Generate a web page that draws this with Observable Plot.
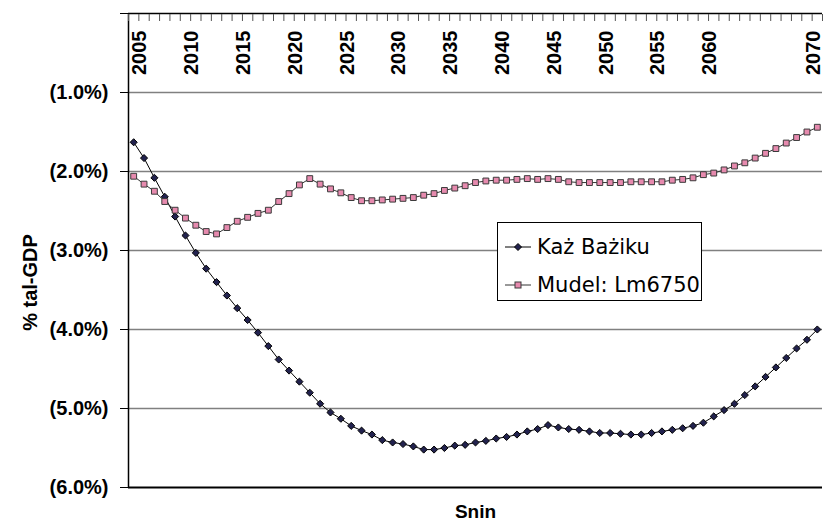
<!DOCTYPE html>
<html>
<head>
<meta charset="utf-8">
<script src="https://cdn.jsdelivr.net/npm/d3@7"></script>
<script src="https://cdn.jsdelivr.net/npm/@observablehq/plot@0.6"></script>
<style>
  body { margin: 0; background: #fff; }
  #wrap { position: relative; width: 823px; height: 526px; }
  #legend { position: absolute; left: 497px; top: 222px; width: 205px; height: 79px; border: 1px solid #000;
            background: #fff; box-sizing: border-box; font-family: "DejaVu Sans", sans-serif; font-size: 21px; color: #000; }
  #legend .row { position: absolute; left: 7px; display: flex; align-items: center; white-space: nowrap; }
  #legend svg { margin-right: 6px; }
</style>
</head>
<body>
<div id="wrap"></div>
<script>
// Categories (years)
const years = [2004,2005,2006,2007,2008,2009,2010,2011,2012,2013,2014,2015,2016,2017,2018,2019,2020,2021,2022,2023,
  2024,2025,2026,2027,2028,2029,2030,2031,2032,2033,2034,2035,2036,2037,2038,2039,2040,2041,2042,2043,
  2044,2045,2046,2047,2048,2049,2050,2051,2052,2053,2054,2055,2056,2057,2058,2059,2060,2061,2062,2063,
  2064,2065,2066,2067,2068,2069,2070];

// Series: % of GDP (negative balances)
const kazBaziku = [-1.63,-1.83,-2.08,-2.32,-2.57,-2.81,-3.03,-3.23,-3.40,-3.57,-3.73,-3.88,-4.04,-4.21,-4.38,-4.52,-4.66,-4.80,-4.94,-5.05,
  -5.13,-5.22,-5.28,-5.33,-5.40,-5.43,-5.45,-5.48,-5.52,-5.52,-5.50,-5.47,-5.46,-5.43,-5.41,-5.38,-5.36,-5.33,-5.29,-5.26,
  -5.21,-5.24,-5.26,-5.27,-5.29,-5.31,-5.31,-5.32,-5.33,-5.33,-5.31,-5.29,-5.27,-5.25,-5.22,-5.18,-5.10,-5.02,-4.94,-4.83,
  -4.72,-4.60,-4.48,-4.36,-4.24,-4.13,-4.00];

const mudel = [-2.06,-2.16,-2.25,-2.38,-2.49,-2.59,-2.68,-2.76,-2.79,-2.71,-2.63,-2.58,-2.53,-2.49,-2.38,-2.28,-2.17,-2.09,-2.16,-2.22,
  -2.27,-2.33,-2.37,-2.37,-2.36,-2.35,-2.34,-2.33,-2.30,-2.28,-2.24,-2.21,-2.18,-2.14,-2.12,-2.11,-2.11,-2.10,-2.09,-2.10,
  -2.09,-2.10,-2.13,-2.14,-2.14,-2.14,-2.14,-2.14,-2.13,-2.13,-2.13,-2.13,-2.11,-2.10,-2.08,-2.04,-2.02,-1.98,-1.93,-1.89,
  -1.83,-1.77,-1.71,-1.64,-1.57,-1.50,-1.44];

const seriesNames = ["Każ Bażiku", "Mudel: Lm6750"];
const xTickLabels = [2005,2010,2015,2020,2025,2030,2035,2040,2045,2050,2055,2060,2070];
const yTicks = [0,-1,-2,-3,-4,-5,-6];
const gridValues = [-1,-2,-3,-4,-5];
const yTitle = "% tal-GDP";
const xTitle = "Snin";

const rowsA = years.map((yr, i) => ({year: yr, value: kazBaziku[i]}));
const rowsB = years.map((yr, i) => ({year: yr, value: mudel[i]}));
const boundaries = [...years.map(y => y - 0.5), years[years.length - 1] + 0.5];

const font = "'Liberation Sans', Arial, sans-serif";

const chart = Plot.plot({
  width: 823,
  height: 526,
  marginTop: 13,
  marginBottom: 39,
  marginLeft: 128,
  marginRight: 1,
  style: {fontFamily: font, background: "#fff", color: "#000", overflow: "visible"},
  x: {type: "linear", domain: [years[0] - 0.5, years[years.length - 1] + 0.5]},
  y: {domain: [yTicks[yTicks.length - 1], yTicks[0]]},
  marks: [
    Plot.ruleY(gridValues, {stroke: "#808080", strokeWidth: 1.6}),
    Plot.ruleY([yTicks[yTicks.length - 1]], {stroke: "#000", strokeWidth: 2}),
    Plot.ruleY([yTicks[0]], {stroke: "#000", strokeWidth: 1.5}),
    Plot.ruleX([years[0] - 0.5], {stroke: "#000", strokeWidth: 1.5}),
    Plot.axisX({anchor: "top", ticks: boundaries, tickSize: 7, dy: 7, tickFormat: () => "", label: null, stroke: "#555"}),
    Plot.axisY({ticks: yTicks, tickSize: 8, tickPadding: 12, label: null,
      tickFormat: d => d === 0 ? "" : `(${(-d).toFixed(1)}%)`, fontSize: 20, fontWeight: "bold"}),
    Plot.text(xTickLabels, {x: d => d, text: d => String(d), frameAnchor: "top", rotate: -90, textAnchor: "end",
      lineAnchor: "middle", dx: -4, dy: 17, fontSize: 20, fontWeight: "bold"}),
    Plot.text([yTitle], {frameAnchor: "left", rotate: -90, textAnchor: "middle", lineAnchor: "middle",
      dx: -98, dy: 32, fontSize: 20, fontWeight: "bold"}),
    Plot.text([xTitle], {frameAnchor: "bottom", lineAnchor: "middle", dy: 24, fontSize: 19, fontWeight: "bold"}),
    Plot.line(rowsA, {x: "year", y: "value", stroke: "#000", strokeWidth: 1}),
    Plot.line(rowsB, {x: "year", y: "value", stroke: "#333", strokeWidth: 1}),
    Plot.dot(rowsA, {x: "year", y: "value", symbol: "diamond2", r: 3.2, fill: "#22224e", stroke: "#000", strokeWidth: 1}),
    Plot.dot(rowsB, {x: "year", y: "value", symbol: "square", r: 3.3, fill: "#e68aae", stroke: "#3a3a3a", strokeWidth: 1})
  ]
});

const wrap = document.getElementById("wrap");
wrap.appendChild(chart);

const legend = document.createElement("div");
legend.id = "legend";
const markers = [
  `<svg width="26" height="12"><line x1="0" y1="6" x2="26" y2="6" stroke="#000"/><path d="M13,2.5L16.5,6L13,9.5L9.5,6Z" fill="#22224e" stroke="#000"/></svg>`,
  `<svg width="26" height="12"><line x1="0" y1="6" x2="26" y2="6" stroke="#333"/><rect x="10" y="3" width="6" height="6" fill="#e68aae" stroke="#3a3a3a"/></svg>`
];
const rowTops = [12, 50];
seriesNames.forEach((name, i) => {
  const row = document.createElement("div");
  row.className = "row";
  row.style.top = rowTops[i] + "px";
  row.innerHTML = markers[i] + `<span>${name}</span>`;
  legend.appendChild(row);
});
wrap.appendChild(legend);
</script>
</body>
</html>
